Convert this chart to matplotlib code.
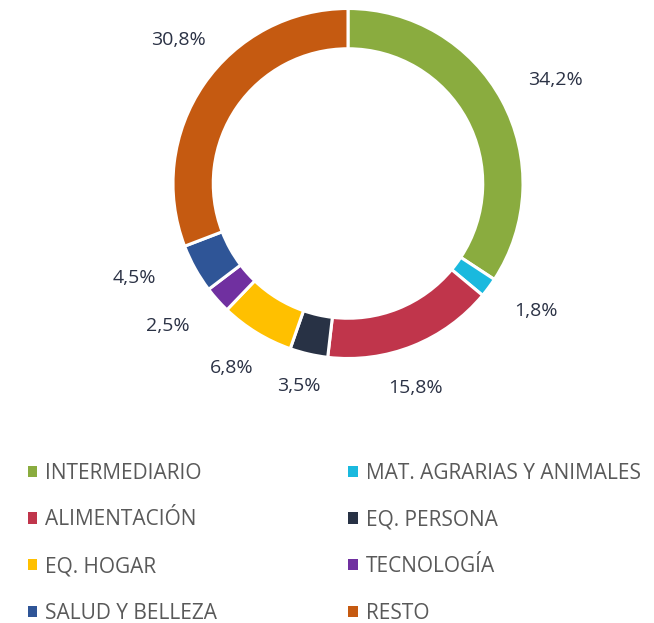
import matplotlib
matplotlib.use("Agg")
import matplotlib.pyplot as plt
import numpy as np

categories = ["INTERMEDIARIO", "MAT. AGRARIAS Y ANIMALES", "ALIMENTACIÓN", "EQ. PERSONA",
              "EQ. HOGAR", "TECNOLOGÍA", "SALUD Y BELLEZA", "RESTO"]
values = [34.2, 1.8, 15.8, 3.5, 6.8, 2.5, 4.5, 30.8]
labels = ["34,2%", "1,8%", "15,8%", "3,5%", "6,8%", "2,5%", "4,5%", "30,8%"]
colors = ["#8AAC3F", "#1AB9DE", "#C0354B", "#283245", "#FFC000", "#7030A0", "#2F5597", "#C55A11"]
label_dist = [1.327, 1.292, 1.221, 1.179, 1.240, 1.305, 1.329, 1.275]
label_angle_shift = [-1.4, 2.7, -3.4, -0.8, -1.0, -3.9, -5.6, -6.2]

plt.rcParams['font.family'] = ['Open Sans', 'DejaVu Sans']

W, H = 654, 623
fig = plt.figure(figsize=(W / 100, H / 100), dpi=100)
cx, cy, R = 348, 183.5, 175
ax = fig.add_axes([(cx - R) / W, (H - cy - R) / H, 2 * R / W, 2 * R / H])
wedges, _ = ax.pie(values, colors=colors, startangle=90, counterclock=False, radius=1,
                   wedgeprops=dict(width=0.23, edgecolor="white", linewidth=2.2))
ax.set_xlim(-1, 1)
ax.set_ylim(-1, 1)
ax.set_aspect("equal")
ax.axis("off")

for w, lab, d, s in zip(wedges, labels, label_dist, label_angle_shift):
    ang = np.deg2rad((w.theta1 + w.theta2) / 2 + s)
    ax.text(d * np.cos(ang), d * np.sin(ang), lab, ha="center", va="center_baseline",
            fontsize=14, color="#2B3245", clip_on=False)

order = [0, 2, 4, 6, 1, 3, 5, 7]
leg = fig.legend([wedges[i] for i in order], [categories[i] for i in order],
                 ncol=2, loc="upper left", bbox_to_anchor=(9 / W, 1 - 444 / H),
                 frameon=False, fontsize=15, handlelength=0.45, handleheight=0.45,
                 handletextpad=0.38, labelspacing=1.23, columnspacing=6.3,
                 labelcolor="#595959")
for h in leg.legend_handles:
    h.set_linewidth(0)

fig.savefig("out.png", dpi=100)
